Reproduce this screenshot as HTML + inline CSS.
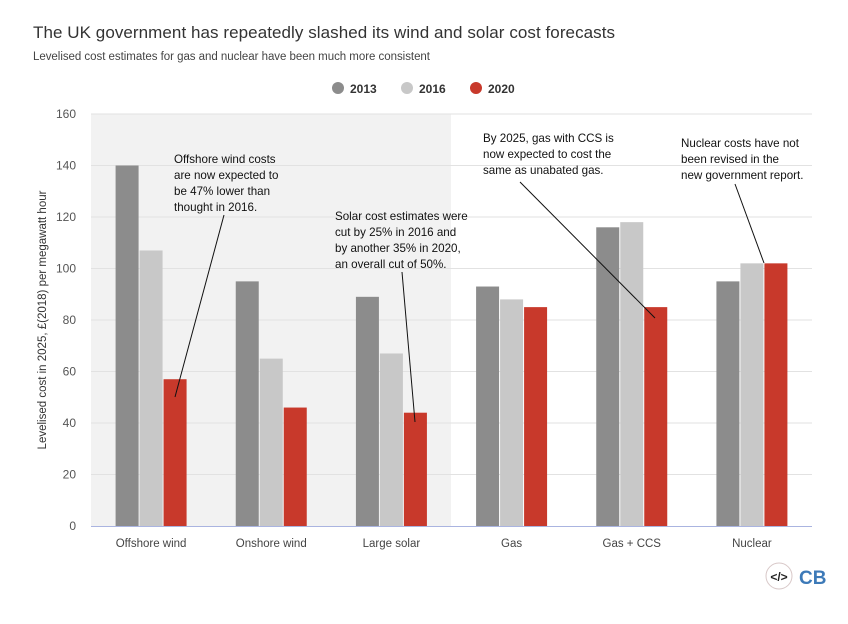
<!DOCTYPE html>
<html><head><meta charset="utf-8"><style>
body{margin:0;background:#fff;font-family:"Liberation Sans",sans-serif;}
svg text{font-family:"Liberation Sans",sans-serif;}
</style></head><body>
<svg id="c" width="848" height="619" xmlns="http://www.w3.org/2000/svg">
<text x="33" y="38" font-size="17" fill="#333" textLength="582">The UK government has repeatedly slashed its wind and solar cost forecasts</text>
<text x="33" y="60" font-size="11.5" fill="#444" textLength="397">Levelised cost estimates for gas and nuclear have been much more consistent</text>
<rect x="91" y="114" width="360" height="412" fill="#f2f2f2"/>
<g id="grid"></g><g id="bars"></g>
<text transform="translate(46,320) rotate(-90)" text-anchor="middle" font-size="11.5" fill="#333">Levelised cost in 2025, £(2018) per megawatt hour</text>
<g>
<circle cx="338" cy="88" r="6" fill="#8c8c8c"/><text x="350" y="93" font-size="12" font-weight="bold" fill="#333">2013</text>
<circle cx="407" cy="88" r="6" fill="#c8c8c8"/><text x="419" y="93" font-size="12" font-weight="bold" fill="#333">2016</text>
<circle cx="476" cy="88" r="6" fill="#c8392b"/><text x="488" y="93" font-size="12" font-weight="bold" fill="#333">2020</text>
</g>
<g font-size="11.6" fill="#111">
<text x="174" y="163"><tspan x="174">Offshore wind costs</tspan><tspan x="174" dy="16">are now expected to</tspan><tspan x="174" dy="16">be 47% lower than</tspan><tspan x="174" dy="16">thought in 2016.</tspan></text>
<line x1="224" y1="215" x2="175" y2="397" stroke="#111"/>
<text x="335" y="220"><tspan x="335">Solar cost estimates were</tspan><tspan x="335" dy="16">cut by 25% in 2016 and</tspan><tspan x="335" dy="16">by another 35% in 2020,</tspan><tspan x="335" dy="16">an overall cut of 50%.</tspan></text>
<line x1="402" y1="272" x2="415" y2="422" stroke="#111"/>
<text x="483" y="142"><tspan x="483">By 2025, gas with CCS is</tspan><tspan x="483" dy="16">now expected to cost the</tspan><tspan x="483" dy="16">same as unabated gas.</tspan></text>
<line x1="520" y1="182" x2="655" y2="318" stroke="#111"/>
<text x="681" y="147"><tspan x="681">Nuclear costs have not</tspan><tspan x="681" dy="16">been revised in the</tspan><tspan x="681" dy="16">new government report.</tspan></text>
<line x1="735" y1="184" x2="764" y2="263" stroke="#111"/>
</g>
<g><circle cx="779" cy="576" r="13" fill="#fff" stroke="#d8c8c8"/><text x="779" y="581" text-anchor="middle" font-size="12" font-weight="bold" fill="#222">&lt;/&gt;</text></g>
<text x="799" y="584" font-size="19" font-weight="bold" fill="#3d7ab8">CB</text>
</svg>
<script>
const categories=["Offshore wind","Onshore wind","Large solar","Gas","Gas + CCS","Nuclear"];
const v2013=[140,95,89,93,116,95];
const v2016=[107,65,67,88,118,102];
const v2020=[57,46,44,85,85,102];
const yTicks=[0,20,40,60,80,100,120,140,160];
const NS="http://www.w3.org/2000/svg";
const x0=91,x1=812,y0=526,yTop=114,yMax=160;
const y=v=>y0-(v/yMax)*(y0-yTop);
const band=(x1-x0)/categories.length;
const cx=i=>x0+band*(i+0.5);
const grid=document.getElementById('grid'),bars=document.getElementById('bars');
function mk(tag,attrs,parent){const e=document.createElementNS(NS,tag);for(const k in attrs)e.setAttribute(k,attrs[k]);parent.appendChild(e);return e;}
yTicks.forEach(t=>{
  if(t>0){const l=mk('line',{x1:x0,x2:x1,y1:y(t),y2:y(t),stroke:'#e2e2e2'},grid);
  
  }
  const tx=mk('text',{x:76,y:y(t)+4,'text-anchor':'end','font-size':12,fill:'#555'},grid);tx.textContent=t;
  
  
});
const series=[[v2013,'#8c8c8c','2013'],[v2016,'#c8c8c8','2016'],[v2020,'#c8392b','2020']];
const bw=23;
categories.forEach((c,i)=>{
  series.forEach((s,j)=>{
    const v=s[0][i];
    const r=mk('rect',{x:cx(i)+(j-1)*24-bw/2,y:y(v),width:bw,height:y0-y(v),fill:s[1]},bars);
    
    
  });
  const t=mk('text',{x:cx(i),y:547,'text-anchor':'middle','font-size':11.5,fill:'#444'},bars);t.textContent=c;
  
  
});
const ax=mk('line',{x1:x0,x2:x1,y1:y0+0.5,y2:y0+0.5,stroke:'#aab4e0'},bars);


</script>
</body></html>
